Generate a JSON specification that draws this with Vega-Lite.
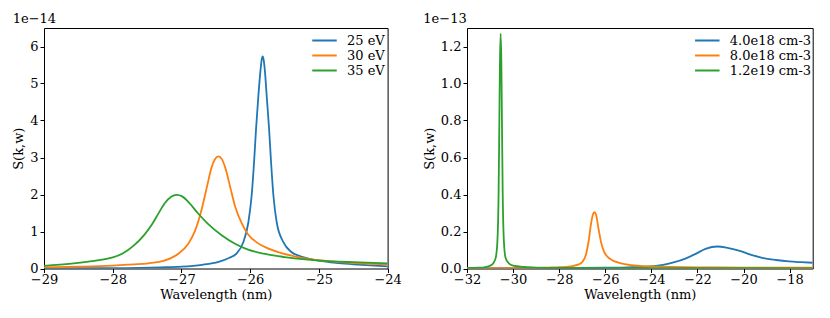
{
  "$schema": "https://vega.github.io/schema/vega-lite/v6.json",
  "padding": {"left": 12, "top": 12, "right": 5, "bottom": 5},
  "background": "white",
  "config": {
    "font": "DejaVu Serif",
    "view": {"stroke": "#000", "strokeWidth": 1},
    "axis": {
      "grid": false, "domain": false, "tickColor": "#000", "tickSize": 4, "tickWidth": 1,
      "labelFont": "DejaVu Serif", "labelFontSize": 13, "labelColor": "#000",
      "titleFont": "DejaVu Serif", "titleFontSize": 13, "titleFontWeight": "normal", "titleColor": "#000",
      "labelFlush": false, "labelOverlap": false
    },
    "axisX": {"labelPadding": 1, "titlePadding": 2},
    "axisY": {"labelPadding": 2, "titlePadding": 4},
    "legend": {
      "orient": "none", "padding": 0, "symbolType": "M-2,0H2", "symbolStrokeWidth": 2,
      "symbolSize": 150, "labelFont": "DejaVu Serif", "labelFontSize": 13, "labelColor": "#000",
      "rowPadding": -1, "labelOffset": 15, "title": null
    },
    "title": {"font": "DejaVu Serif", "fontSize": 13, "fontWeight": "normal", "anchor": "start", "offset": 2, "color": "#000"}
  },
  "hconcat": [
    {
      "width": 343.6,
      "height": 240.5,
      "title": "1e−14",
      "data": {"values": [
        {"series": "25 eV", "x": -29, "y": 0.005e-14},
        {"series": "25 eV", "x": -28, "y": 0.01e-14},
        {"series": "25 eV", "x": -27.3, "y": 0.03e-14},
        {"series": "25 eV", "x": -27.0, "y": 0.05e-14},
        {"series": "25 eV", "x": -26.7, "y": 0.1e-14},
        {"series": "25 eV", "x": -26.46, "y": 0.18e-14},
        {"series": "25 eV", "x": -26.3, "y": 0.29e-14},
        {"series": "25 eV", "x": -26.2, "y": 0.40e-14},
        {"series": "25 eV", "x": -26.10, "y": 0.71e-14},
        {"series": "25 eV", "x": -26.026, "y": 1.25e-14},
        {"series": "25 eV", "x": -25.978, "y": 1.98e-14},
        {"series": "25 eV", "x": -25.943, "y": 2.88e-14},
        {"series": "25 eV", "x": -25.914, "y": 3.78e-14},
        {"series": "25 eV", "x": -25.88, "y": 4.68e-14},
        {"series": "25 eV", "x": -25.85, "y": 5.35e-14},
        {"series": "25 eV", "x": -25.833, "y": 5.63e-14},
        {"series": "25 eV", "x": -25.818, "y": 5.73e-14},
        {"series": "25 eV", "x": -25.803, "y": 5.63e-14},
        {"series": "25 eV", "x": -25.786, "y": 5.35e-14},
        {"series": "25 eV", "x": -25.76, "y": 4.68e-14},
        {"series": "25 eV", "x": -25.725, "y": 3.78e-14},
        {"series": "25 eV", "x": -25.696, "y": 2.88e-14},
        {"series": "25 eV", "x": -25.662, "y": 1.98e-14},
        {"series": "25 eV", "x": -25.614, "y": 1.25e-14},
        {"series": "25 eV", "x": -25.517, "y": 0.71e-14},
        {"series": "25 eV", "x": -25.396, "y": 0.44e-14},
        {"series": "25 eV", "x": -25.27, "y": 0.33e-14},
        {"series": "25 eV", "x": -25.15, "y": 0.27e-14},
        {"series": "25 eV", "x": -25.0, "y": 0.21e-14},
        {"series": "25 eV", "x": -24.75, "y": 0.15e-14},
        {"series": "25 eV", "x": -24.5, "y": 0.115e-14},
        {"series": "25 eV", "x": -24.25, "y": 0.085e-14},
        {"series": "25 eV", "x": -24.0, "y": 0.06e-14},
        {"series": "30 eV", "x": -29, "y": 0.03e-14},
        {"series": "30 eV", "x": -28.5, "y": 0.05e-14},
        {"series": "30 eV", "x": -28.0, "y": 0.08e-14},
        {"series": "30 eV", "x": -27.7, "y": 0.11e-14},
        {"series": "30 eV", "x": -27.48, "y": 0.14e-14},
        {"series": "30 eV", "x": -27.24, "y": 0.22e-14},
        {"series": "30 eV", "x": -27.045, "y": 0.40e-14},
        {"series": "30 eV", "x": -26.90, "y": 0.67e-14},
        {"series": "30 eV", "x": -26.80, "y": 1.03e-14},
        {"series": "30 eV", "x": -26.71, "y": 1.57e-14},
        {"series": "30 eV", "x": -26.63, "y": 2.2e-14},
        {"series": "30 eV", "x": -26.56, "y": 2.74e-14},
        {"series": "30 eV", "x": -26.51, "y": 2.96e-14},
        {"series": "30 eV", "x": -26.463, "y": 3.03e-14},
        {"series": "30 eV", "x": -26.41, "y": 2.95e-14},
        {"series": "30 eV", "x": -26.365, "y": 2.74e-14},
        {"series": "30 eV", "x": -26.29, "y": 2.2e-14},
        {"series": "30 eV", "x": -26.22, "y": 1.68e-14},
        {"series": "30 eV", "x": -26.12, "y": 1.21e-14},
        {"series": "30 eV", "x": -26.03, "y": 0.92e-14},
        {"series": "30 eV", "x": -25.9, "y": 0.70e-14},
        {"series": "30 eV", "x": -25.75, "y": 0.55e-14},
        {"series": "30 eV", "x": -25.59, "y": 0.44e-14},
        {"series": "30 eV", "x": -25.25, "y": 0.29e-14},
        {"series": "30 eV", "x": -24.8, "y": 0.19e-14},
        {"series": "30 eV", "x": -24.4, "y": 0.14e-14},
        {"series": "30 eV", "x": -24.0, "y": 0.11e-14},
        {"series": "35 eV", "x": -29, "y": 0.07e-14},
        {"series": "35 eV", "x": -28.6, "y": 0.13e-14},
        {"series": "35 eV", "x": -28.3, "y": 0.2e-14},
        {"series": "35 eV", "x": -28.0, "y": 0.3e-14},
        {"series": "35 eV", "x": -27.85, "y": 0.41e-14},
        {"series": "35 eV", "x": -27.7, "y": 0.61e-14},
        {"series": "35 eV", "x": -27.55, "y": 0.89e-14},
        {"series": "35 eV", "x": -27.43, "y": 1.19e-14},
        {"series": "35 eV", "x": -27.34, "y": 1.47e-14},
        {"series": "35 eV", "x": -27.24, "y": 1.77e-14},
        {"series": "35 eV", "x": -27.15, "y": 1.94e-14},
        {"series": "35 eV", "x": -27.07, "y": 1.99e-14},
        {"series": "35 eV", "x": -26.99, "y": 1.95e-14},
        {"series": "35 eV", "x": -26.90, "y": 1.80e-14},
        {"series": "35 eV", "x": -26.754, "y": 1.48e-14},
        {"series": "35 eV", "x": -26.61, "y": 1.2e-14},
        {"series": "35 eV", "x": -26.415, "y": 0.90e-14},
        {"series": "35 eV", "x": -26.22, "y": 0.67e-14},
        {"series": "35 eV", "x": -26.03, "y": 0.51e-14},
        {"series": "35 eV", "x": -25.8, "y": 0.40e-14},
        {"series": "35 eV", "x": -25.5, "y": 0.31e-14},
        {"series": "35 eV", "x": -25.2, "y": 0.245e-14},
        {"series": "35 eV", "x": -25.0, "y": 0.215e-14},
        {"series": "35 eV", "x": -24.5, "y": 0.17e-14},
        {"series": "35 eV", "x": -24.0, "y": 0.14e-14}
      ]},
      "mark": {"type": "line", "strokeWidth": 1.8, "clip": true, "interpolate": "monotone"},
      "encoding": {
        "x": {"field": "x", "type": "quantitative", "title": "Wavelength (nm)",
              "scale": {"domain": [-29, -24], "nice": false, "zero": false},
              "axis": {"values": [-29, -28, -27, -26, -25, -24]}},
        "y": {"field": "y", "type": "quantitative", "title": "S(k,w)",
              "scale": {"domain": [0, 6.5e-14], "nice": false},
              "axis": {"values": [0, 1e-14, 2e-14, 3e-14, 4e-14, 5e-14, 6e-14], "labelExpr": "format(datum.value*1e14, '.0f')"}},
        "color": {"field": "series", "type": "nominal",
                  "scale": {"domain": ["25 eV", "30 eV", "35 eV"], "range": ["#1f77b4", "#ff7f0e", "#2ca02c"]},
                  "legend": {"legendX": 273, "legendY": 5}}
      }
    },
    {
      "width": 345.7,
      "height": 240.5,
      "title": "1e−13",
      "data": {"values": [
        {"series": "4.0e18 cm-3", "x": -32, "y": 0.001e-13},
        {"series": "4.0e18 cm-3", "x": -28, "y": 0.002e-13},
        {"series": "4.0e18 cm-3", "x": -26, "y": 0.004e-13},
        {"series": "4.0e18 cm-3", "x": -25, "y": 0.006e-13},
        {"series": "4.0e18 cm-3", "x": -24, "y": 0.012e-13},
        {"series": "4.0e18 cm-3", "x": -23.5, "y": 0.02e-13},
        {"series": "4.0e18 cm-3", "x": -23, "y": 0.034e-13},
        {"series": "4.0e18 cm-3", "x": -22.5, "y": 0.055e-13},
        {"series": "4.0e18 cm-3", "x": -22.08, "y": 0.079e-13},
        {"series": "4.0e18 cm-3", "x": -21.65, "y": 0.106e-13},
        {"series": "4.0e18 cm-3", "x": -21.14, "y": 0.119e-13},
        {"series": "4.0e18 cm-3", "x": -20.7, "y": 0.112e-13},
        {"series": "4.0e18 cm-3", "x": -20.2, "y": 0.097e-13},
        {"series": "4.0e18 cm-3", "x": -19.7, "y": 0.075e-13},
        {"series": "4.0e18 cm-3", "x": -19.19, "y": 0.058e-13},
        {"series": "4.0e18 cm-3", "x": -18.6, "y": 0.046e-13},
        {"series": "4.0e18 cm-3", "x": -18.03, "y": 0.038e-13},
        {"series": "4.0e18 cm-3", "x": -17.5, "y": 0.034e-13},
        {"series": "4.0e18 cm-3", "x": -17, "y": 0.031e-13},
        {"series": "8.0e18 cm-3", "x": -32, "y": 0.001e-13},
        {"series": "8.0e18 cm-3", "x": -30, "y": 0.002e-13},
        {"series": "8.0e18 cm-3", "x": -29, "y": 0.003e-13},
        {"series": "8.0e18 cm-3", "x": -28.5, "y": 0.005e-13},
        {"series": "8.0e18 cm-3", "x": -28, "y": 0.007e-13},
        {"series": "8.0e18 cm-3", "x": -27.5, "y": 0.012e-13},
        {"series": "8.0e18 cm-3", "x": -27.15, "y": 0.022e-13},
        {"series": "8.0e18 cm-3", "x": -27.0, "y": 0.035e-13},
        {"series": "8.0e18 cm-3", "x": -26.85, "y": 0.07e-13},
        {"series": "8.0e18 cm-3", "x": -26.72, "y": 0.15e-13},
        {"series": "8.0e18 cm-3", "x": -26.62, "y": 0.24e-13},
        {"series": "8.0e18 cm-3", "x": -26.54, "y": 0.29e-13},
        {"series": "8.0e18 cm-3", "x": -26.47, "y": 0.304e-13},
        {"series": "8.0e18 cm-3", "x": -26.40, "y": 0.29e-13},
        {"series": "8.0e18 cm-3", "x": -26.30, "y": 0.22e-13},
        {"series": "8.0e18 cm-3", "x": -26.18, "y": 0.14e-13},
        {"series": "8.0e18 cm-3", "x": -26.05, "y": 0.09e-13},
        {"series": "8.0e18 cm-3", "x": -25.9, "y": 0.063e-13},
        {"series": "8.0e18 cm-3", "x": -25.7, "y": 0.045e-13},
        {"series": "8.0e18 cm-3", "x": -25.4, "y": 0.031e-13},
        {"series": "8.0e18 cm-3", "x": -25.1, "y": 0.022e-13},
        {"series": "8.0e18 cm-3", "x": -24.5, "y": 0.014e-13},
        {"series": "8.0e18 cm-3", "x": -24, "y": 0.011e-13},
        {"series": "8.0e18 cm-3", "x": -22, "y": 0.006e-13},
        {"series": "8.0e18 cm-3", "x": -20, "y": 0.005e-13},
        {"series": "8.0e18 cm-3", "x": -17, "y": 0.004e-13},
        {"series": "1.2e19 cm-3", "x": -32, "y": 0.002e-13},
        {"series": "1.2e19 cm-3", "x": -31.5, "y": 0.004e-13},
        {"series": "1.2e19 cm-3", "x": -31.2, "y": 0.008e-13},
        {"series": "1.2e19 cm-3", "x": -31.0, "y": 0.015e-13},
        {"series": "1.2e19 cm-3", "x": -30.85, "y": 0.03e-13},
        {"series": "1.2e19 cm-3", "x": -30.75, "y": 0.06e-13},
        {"series": "1.2e19 cm-3", "x": -30.68, "y": 0.15e-13},
        {"series": "1.2e19 cm-3", "x": -30.63, "y": 0.4e-13},
        {"series": "1.2e19 cm-3", "x": -30.60, "y": 0.75e-13},
        {"series": "1.2e19 cm-3", "x": -30.57, "y": 1.12e-13},
        {"series": "1.2e19 cm-3", "x": -30.54, "y": 1.27e-13},
        {"series": "1.2e19 cm-3", "x": -30.51, "y": 1.12e-13},
        {"series": "1.2e19 cm-3", "x": -30.48, "y": 0.75e-13},
        {"series": "1.2e19 cm-3", "x": -30.45, "y": 0.4e-13},
        {"series": "1.2e19 cm-3", "x": -30.40, "y": 0.15e-13},
        {"series": "1.2e19 cm-3", "x": -30.33, "y": 0.06e-13},
        {"series": "1.2e19 cm-3", "x": -30.2, "y": 0.03e-13},
        {"series": "1.2e19 cm-3", "x": -30.0, "y": 0.015e-13},
        {"series": "1.2e19 cm-3", "x": -29.5, "y": 0.008e-13},
        {"series": "1.2e19 cm-3", "x": -29, "y": 0.005e-13},
        {"series": "1.2e19 cm-3", "x": -28, "y": 0.003e-13},
        {"series": "1.2e19 cm-3", "x": -17, "y": 0.001e-13}
      ]},
      "mark": {"type": "line", "strokeWidth": 1.8, "clip": true, "interpolate": "monotone"},
      "encoding": {
        "x": {"field": "x", "type": "quantitative", "title": "Wavelength (nm)",
              "scale": {"domain": [-32, -17], "nice": false, "zero": false},
              "axis": {"values": [-32, -30, -28, -26, -24, -22, -20, -18]}},
        "y": {"field": "y", "type": "quantitative", "title": "S(k,w)",
              "scale": {"domain": [0, 1.3e-13], "nice": false},
              "axis": {"values": [0, 0.2e-13, 0.4e-13, 0.6e-13, 0.8e-13, 1.0e-13, 1.2e-13], "labelExpr": "format(datum.value*1e13, '.1f')"}},
        "color": {"field": "series", "type": "nominal",
                  "scale": {"domain": ["4.0e18 cm-3", "8.0e18 cm-3", "1.2e19 cm-3"], "range": ["#1f77b4", "#ff7f0e", "#2ca02c"]},
                  "legend": {"legendX": 232.8, "legendY": 5}}
      }
    }
  ],
  "spacing": 79,
  "bounds": "flush",
  "resolve": {"scale": {"color": "independent"}}
}
